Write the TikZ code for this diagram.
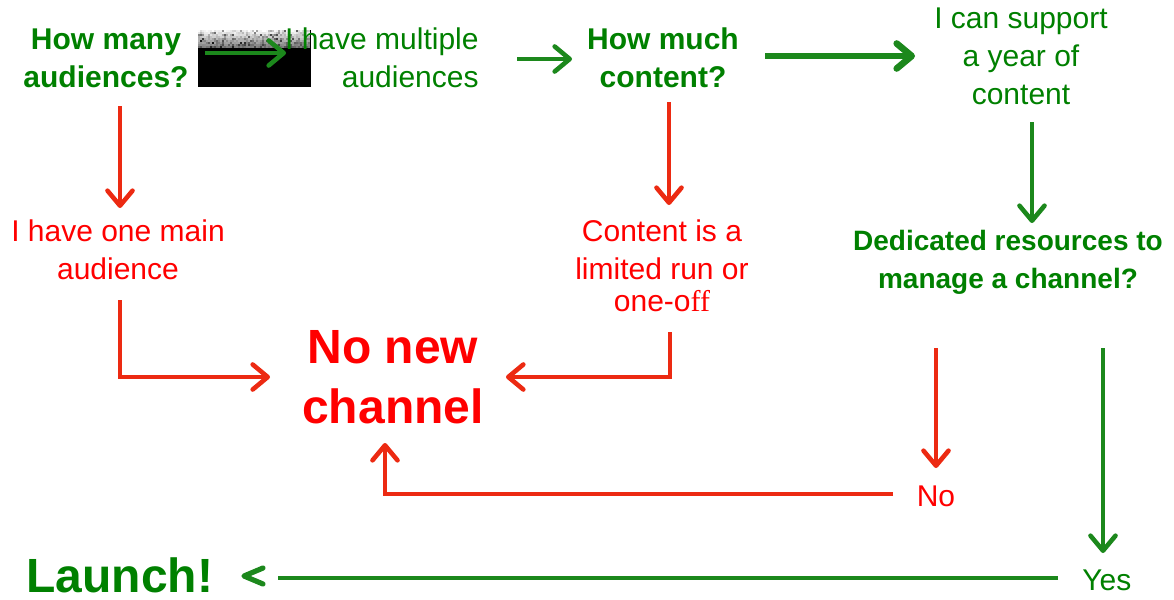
\documentclass[tikz,border=0pt]{standalone}
\usepackage{fontspec}
\setmainfont{Liberation Sans}
\newfontfamily\seriffam{Liberation Serif}
\usetikzlibrary{arrows.meta}
\definecolor{txtgreen}{RGB}{0,128,0}
\definecolor{txtred}{RGB}{255,0,0}
\definecolor{arrgreen}{RGB}{28,136,28}
\definecolor{arrred}{RGB}{236,42,18}
\tikzset{
  lbl/.style={inner sep=0pt, align=center},
  reggreen/.style={lbl, text=txtgreen, font=\fontsize{15}{19}\selectfont},
  regred/.style={lbl, text=txtred, font=\fontsize{15}{19}\selectfont},
  question/.style={lbl, text=txtgreen, font=\bfseries\fontsize{15}{19}\selectfont},
  tip/.style={-{Straight Barb[length=7.5pt,width=12.5pt,round]}},
  garrow/.style={draw=arrgreen, line width=2.3pt, tip},
  rarrow/.style={draw=arrred, line width=2.3pt, tip},
}
\begin{document}
\begin{tikzpicture}[x=0.5pt,y=-0.5pt]
\useasboundingbox (0,0) rectangle (1174,600);

% speckled black box behind the first arrow
\fill[black] (198,30) rectangle (311,87);
\pgfmathsetseed{7}
\foreach \i in {0,...,55}{
  \foreach \j in {0,...,8}{
    \pgfmathsetmacro\g{int(min(95,100*rnd*rnd*rnd+6*\j))}
    \fill[black!\g] (198+2*\i,30+2*\j) rectangle ++(2.02,2.02);
  }
}

% labels
\node[question] (q1) at (106,58) {How many\\audiences?};
\node[reggreen, anchor=east, align=right] (multi) at (479,58) {I have multiple\\audiences};
\node[question] (q2) at (663,58) {How much\\content?};
\node[reggreen] (year) at (1021,56) {I can support\\a year of\\content};
\node[regred] (one) at (118,250) {I have one main\\audience};
\node[regred] (limited) at (662,266) {Content is a\\limited run or\\[-3pt]one-o{\seriffam ff}};
\node[lbl, text=txtgreen, font=\bfseries\fontsize{14}{19}\selectfont] (q3) at (1008,262) {Dedicated resources to\\manage a channel?};
\node[lbl, text=txtred, font=\bfseries\fontsize{24}{30}\selectfont] (nonew) at (393,377) {No new\\channel};
\node[regred] (no) at (936,496) {No};
\node[reggreen, anchor=west] (yes) at (1082,580) {Yes};
\node[lbl, text=txtgreen, font=\bfseries\fontsize{24}{28}\selectfont, anchor=west] (launch) at (26,575) {Launch!};

% connector end points
\coordinate (a1s) at (205,53);   \coordinate (a1e) at (286,53);
\coordinate (a2s) at (517,59);   \coordinate (a2e) at (572,59);
\coordinate (a3s) at (765,56);   \coordinate (a3e) at (915,56);
\coordinate (a4s) at (120,106);  \coordinate (a4e) at (120,208);
\coordinate (a5s) at (669,102);  \coordinate (a5e) at (669,205);
\coordinate (a6s) at (1032,122); \coordinate (a6e) at (1032,223);
\coordinate (a7s) at (120,300);  \coordinate (a7e) at (270,377);
\coordinate (a8s) at (670,332);  \coordinate (a8e) at (506,377);
\coordinate (a9s) at (936,348);  \coordinate (a9e) at (936,468);
\coordinate (a10s) at (893,494); \coordinate (a10e) at (385,443);
\coordinate (a11s) at (1103,348);\coordinate (a11e) at (1103,553);
\coordinate (a12s) at (1058,578);\coordinate (a12e) at (278,578);

% top row: questions and answers
\draw[garrow] (a1s) -- (a1e);
\draw[garrow] (a2s) -- (a2e);
\draw[garrow, line width=3.3pt] (a3s) -- (a3e);
\draw[rarrow] (a4s) -- (a4e);
\draw[rarrow] (a5s) -- (a5e);
\draw[garrow] (a6s) -- (a6e);

% dead ends into "No new channel"
\draw[rarrow] (a7s) |- (a7e);
\draw[rarrow] (a8s) |- (a8e);
\draw[rarrow] (a9s) -- (a9e);
\draw[rarrow] (a10s) -| (a10e);

% the way to launch
\draw[garrow] (a11s) -- (a11e);
\draw[draw=arrgreen, line width=2.3pt] (a12s) -- (a12e);
\draw[draw=arrgreen, line width=2.6pt, line cap=round, line join=round]
  (263,568) -- (244,576) -- (263,584);
\end{tikzpicture}
\end{document}
